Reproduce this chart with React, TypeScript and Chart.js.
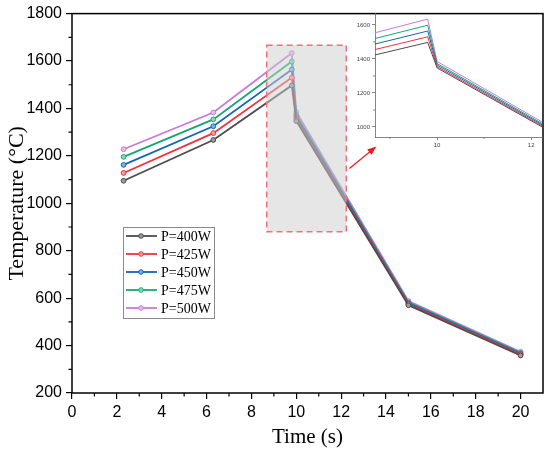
import { useEffect, useRef } from "react"
import { Chart, registerables } from "chart.js"

Chart.register(...registerables)

// data
const timeS = [2.3, 6.3, 9.8, 10, 15, 20]
const p400 = [1095, 1267, 1497, 1347, 570, 358]
const p425 = [1128, 1296, 1530, 1355, 574, 362]
const p450 = [1162, 1325, 1564, 1364, 578, 365]
const p475 = [1196, 1354, 1598, 1373, 582, 369]
const p500 = [1228, 1383, 1634, 1385, 588, 374]
const seriesValues = [p400, p425, p450, p475, p500]
const seriesLabels = ["P=400W", "P=425W", "P=450W", "P=475W", "P=500W"]
const seriesColors = ["#4d4d4d", "#f5303f", "#1466b8", "#17a673", "#c77bd6"]
const pointFills = ["#9a9a9a", "#ff9aa2", "#7fb0e0", "#86d8b6", "#e6bdf0"]

const xMajorTicks = [0, 2, 4, 6, 8, 10, 12, 14, 16, 18, 20]
const xMinorTicks = [1, 3, 5, 7, 9, 11, 13, 15, 17, 19]
const yMajorTicks = [200, 400, 600, 800, 1000, 1200, 1400, 1600, 1800]
const yMinorTicks = [300, 500, 700, 900, 1100, 1300, 1500, 1700]

const insetXTicks = [10, 12]
const insetXMinor = [9, 11]
const insetYTicks = [1000, 1200, 1400, 1600]
const insetYMinor = [1100, 1300, 1500]

// zoomed region (data units)
const zoomX = [8.68, 12.23]
const zoomY = [880, 1667]
const arrowFrom = [12.37, 1147]
const arrowTo = [13.57, 1240]

const sans = "'Liberation Sans', Arial, sans-serif"
const serif = "'Liberation Serif', 'Times New Roman', serif"

const plain = (v: any) => String(v)

const buildDatasets = (inset: boolean) =>
  seriesValues.map((vals, i) => ({
    label: seriesLabels[i],
    data: vals.map((y, j) => ({ x: timeS[j], y })),
    borderColor: seriesColors[i],
    backgroundColor: pointFills[i],
    borderWidth: inset ? 1 : 1.8,
    pointRadius: inset ? 0 : 2.4,
    pointBorderWidth: 1,
    pointBorderColor: seriesColors[i],
    pointBackgroundColor: pointFills[i],
    tension: 0,
  }))

const minorTicks = (chart: any, xs: number[], ys: number[], len: number, color: string, width: number) => {
  const { ctx, chartArea } = chart
  const sx = chart.scales.x
  const sy = chart.scales.y
  ctx.save()
  ctx.strokeStyle = color
  ctx.lineWidth = width
  ctx.beginPath()
  xs.forEach((v) => {
    const px = sx.getPixelForValue(v)
    ctx.moveTo(px, chartArea.bottom)
    ctx.lineTo(px, chartArea.bottom + len)
  })
  ys.forEach((v) => {
    const py = sy.getPixelForValue(v)
    ctx.moveTo(chartArea.left, py)
    ctx.lineTo(chartArea.left - len, py)
  })
  ctx.stroke()
  ctx.restore()
}

const mainDecor = {
  id: "mainDecor",
  afterDatasetsDraw(chart: any) {
    const { ctx, chartArea } = chart
    const sx = chart.scales.x
    const sy = chart.scales.y

    // shaded zoom box, over the lines
    const bx0 = sx.getPixelForValue(zoomX[0])
    const bx1 = sx.getPixelForValue(zoomX[1])
    const by0 = sy.getPixelForValue(zoomY[1])
    const by1 = sy.getPixelForValue(zoomY[0])
    ctx.save()
    ctx.fillStyle = "rgba(205,205,205,0.5)"
    ctx.fillRect(bx0, by0, bx1 - bx0, by1 - by0)
    ctx.setLineDash([6, 4])
    ctx.strokeStyle = "#f2707e"
    ctx.lineWidth = 1.5
    ctx.strokeRect(bx0, by0, bx1 - bx0, by1 - by0)
    ctx.restore()

    // arrow
    const ax0 = sx.getPixelForValue(arrowFrom[0])
    const ay0 = sy.getPixelForValue(arrowFrom[1])
    const ax1 = sx.getPixelForValue(arrowTo[0])
    const ay1 = sy.getPixelForValue(arrowTo[1])
    const ang = Math.atan2(ay1 - ay0, ax1 - ax0)
    ctx.save()
    ctx.strokeStyle = "#e81c1c"
    ctx.fillStyle = "#e81c1c"
    ctx.lineWidth = 1.2
    ctx.beginPath()
    ctx.moveTo(ax0, ay0)
    ctx.lineTo(ax1 - 6 * Math.cos(ang), ay1 - 6 * Math.sin(ang))
    ctx.stroke()
    ctx.beginPath()
    ctx.moveTo(ax1, ay1)
    ctx.lineTo(ax1 - 9 * Math.cos(ang) + 3.5 * Math.sin(ang), ay1 - 9 * Math.sin(ang) - 3.5 * Math.cos(ang))
    ctx.lineTo(ax1 - 9 * Math.cos(ang) - 3.5 * Math.sin(ang), ay1 - 9 * Math.sin(ang) + 3.5 * Math.cos(ang))
    ctx.closePath()
    ctx.fill()
    ctx.restore()

    // frame
    ctx.save()
    ctx.strokeStyle = "#000"
    ctx.lineWidth = 1.5
    ctx.strokeRect(chartArea.left, chartArea.top, chartArea.right - chartArea.left, chartArea.bottom - chartArea.top)
    ctx.restore()
    minorTicks(chart, xMinorTicks, yMinorTicks, 3.5, "#000", 1.2)

    // legend
    const lx = 123
    const ly = 227
    ctx.save()
    ctx.fillStyle = "#fff"
    ctx.fillRect(lx, ly, 91, 91)
    ctx.strokeStyle = "#8a8a8a"
    ctx.lineWidth = 1
    ctx.strokeRect(lx + 0.5, ly + 0.5, 91, 91)
    ctx.font = `14px ${serif}`
    ctx.textBaseline = "middle"
    chart.data.datasets.forEach((ds: any, i: number) => {
      const y = ly + 9 + i * 18
      ctx.strokeStyle = ds.borderColor
      ctx.lineWidth = 1.8
      ctx.beginPath()
      ctx.moveTo(lx + 3, y)
      ctx.lineTo(lx + 34, y)
      ctx.stroke()
      ctx.beginPath()
      ctx.arc(lx + 18, y, 2.3, 0, Math.PI * 2)
      ctx.fillStyle = ds.pointBackgroundColor
      ctx.fill()
      ctx.lineWidth = 1
      ctx.stroke()
      ctx.fillStyle = "#000"
      ctx.fillText(ds.label, lx + 38, y + 1)
    })
    ctx.restore()
  },
}

const insetDecor = {
  id: "insetDecor",
  afterDatasetsDraw(chart: any) {
    minorTicks(chart, insetXMinor, insetYMinor, 2, "#666", 0.8)
  },
}

export default function App() {
  const mainRef = useRef<HTMLCanvasElement>(null)
  const insetRef = useRef<HTMLCanvasElement>(null)

  useEffect(() => {
    if (!mainRef.current || !insetRef.current) return

    const main = new Chart(mainRef.current, {
      type: "line",
      data: { datasets: buildDatasets(false) as any },
      options: {
        animation: false,
        responsive: false,
        devicePixelRatio: 1,
        layout: { padding: { top: 13, right: 7, left: 0, bottom: 0 } },
        plugins: { legend: { display: false }, tooltip: { enabled: false } },
        scales: {
          x: {
            type: "linear",
            min: 0,
            max: 21,
            afterBuildTicks: (s: any) => {
              s.ticks = xMajorTicks.map((v) => ({ value: v }))
            },
            afterFit: (s: any) => {
              s.height = 59
            },
            border: { display: false },
            grid: { drawOnChartArea: false, drawTicks: true, tickLength: 6, color: "#000", lineWidth: 1.2 },
            ticks: { font: { family: sans, size: 16 }, color: "#000", padding: 4, maxRotation: 0, callback: plain },
            title: {
              display: true,
              text: "Time (s)",
              font: { family: serif, size: 21 },
              color: "#000",
              padding: { top: 0, bottom: 2 },
            },
          },
          y: {
            type: "linear",
            min: 200,
            max: 1800,
            afterBuildTicks: (s: any) => {
              s.ticks = yMajorTicks.map((v) => ({ value: v }))
            },
            afterFit: (s: any) => {
              s.width = 72
            },
            border: { display: false },
            grid: { drawOnChartArea: false, drawTicks: true, tickLength: 6, color: "#000", lineWidth: 1.2 },
            ticks: { font: { family: sans, size: 16 }, color: "#000", padding: 4, callback: plain },
            title: {
              display: true,
              text: "Temperature (°C)",
              font: { family: serif, size: 22 },
              color: "#000",
              padding: { top: 4, bottom: 0 },
            },
          },
        },
      },
      plugins: [mainDecor],
    })

    const inset = new Chart(insetRef.current, {
      type: "line",
      data: { datasets: buildDatasets(true) as any },
      options: {
        animation: false,
        responsive: false,
        devicePixelRatio: 1,
        layout: { padding: { top: 13, right: 8, left: 0, bottom: 0 } },
        plugins: { legend: { display: false }, tooltip: { enabled: false } },
        scales: {
          x: {
            type: "linear",
            min: 8.68,
            max: 12.23,
            afterBuildTicks: (s: any) => {
              s.ticks = insetXTicks.map((v) => ({ value: v }))
            },
            afterFit: (s: any) => {
              s.height = 23
            },
            border: { display: true, color: "#666", width: 0.8 },
            grid: { drawOnChartArea: false, drawTicks: true, tickLength: 3, color: "#666", lineWidth: 0.8 },
            ticks: { font: { family: sans, size: 6 }, color: "#444", padding: 2, maxRotation: 0, callback: plain },
          },
          y: {
            type: "linear",
            min: 941,
            max: 1670,
            afterBuildTicks: (s: any) => {
              s.ticks = insetYTicks.map((v) => ({ value: v }))
            },
            afterFit: (s: any) => {
              s.width = 25
            },
            border: { display: true, color: "#666", width: 0.8 },
            grid: { drawOnChartArea: false, drawTicks: true, tickLength: 3, color: "#666", lineWidth: 0.8 },
            ticks: { font: { family: sans, size: 6 }, color: "#444", padding: 2, callback: plain },
          },
        },
      },
      plugins: [insetDecor],
    })

    return () => {
      main.destroy()
      inset.destroy()
    }
  }, [])

  return (
    <div style={{ position: "absolute", left: 0, top: 0, width: 550, height: 452, background: "#fff" }}>
      <canvas ref={mainRef} width={550} height={452} style={{ position: "absolute", left: 0, top: 0 }} />
      <canvas ref={insetRef} width={200} height={160} style={{ position: "absolute", left: 350, top: 0 }} />
    </div>
  )
}
